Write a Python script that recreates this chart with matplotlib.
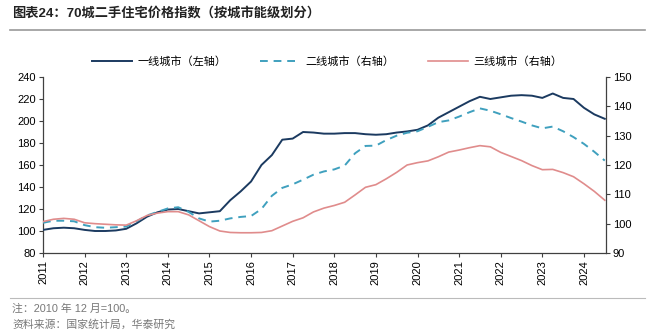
import matplotlib
matplotlib.use("Agg")
import matplotlib.pyplot as plt
import numpy as np

plt.rcParams['font.family'] = ['Liberation Sans', 'Noto Sans CJK SC', 'DejaVu Sans']

title = "图表24：70城二手住宅价格指数（按城市能级划分）"
note1 = "注：2010 年 12 月=100。"
note2 = "资料来源：国家统计局，华泰研究"
labels = ["一线城市（左轴）", "二线城市（右轴）", "三线城市（右轴）"]
years = list(range(2011, 2025))

# quarterly sample points, 2011Q1 .. 2024 mid
t = [2011 + 0.25 * k for k in range(55)]

tier1 = [101, 102.5, 103, 102.5, 101, 100, 100, 100.5, 102, 107, 113, 117,
         119.5, 120, 118, 116, 117, 118, 128, 136, 145, 160, 169, 183,
         184, 190, 189.5, 188.5, 188.5, 189, 189, 188, 187.5, 188, 189.5, 190.5,
         192, 196, 203, 208, 213, 218, 222, 220, 221.5, 223, 223.5, 223,
         221, 225, 221, 220, 212, 206, 202]

tier2 = [100.3, 101, 101, 100.8, 99.5, 98.8, 98.6, 98.8, 99, 100.8, 102.8, 104,
         105.2, 105.6, 104, 101.8, 100.7, 101, 101.8, 102.3, 102.6, 105, 109.5, 112.2,
         113.4, 115, 116.7, 117.8, 118.5, 119.8, 124, 126.5, 126.6, 128.5, 130, 131,
         131.5, 133, 134.6, 135.2, 136.5, 138, 139.3, 138.5, 137.3, 136, 134.8, 133.5,
         132.5, 133.1, 131.5, 129.5, 127.2, 124.5, 121.5]

tier3 = [100.7, 101.5, 101.8, 101.5, 100.3, 100, 99.8, 99.6, 99.5, 101, 102.8, 103.6,
         104.1, 104.1, 103, 101, 99, 97.5, 97, 96.9, 96.9, 97, 97.6, 99.2,
         100.8, 102, 104, 105.3, 106.2, 107.3, 109.8, 112.4, 113.3, 115.3, 117.5, 120,
         120.8, 121.4, 122.8, 124.4, 125.1, 125.9, 126.6, 126.2, 124.3, 122.9, 121.5, 119.8,
         118.4, 118.5, 117.4, 116, 113.6, 111, 108]

c1 = "#1B3A60"
c2 = "#3FA0BE"
c3 = "#E08C8C"
axis_c = "#404040"

fig = plt.figure(figsize=(6.59, 3.35), dpi=100)
ax = fig.add_axes([43/659, 1 - 253/335, (606-43)/659, (253-77)/335])
ax2 = ax.twinx()

ax.plot(t, tier1, color=c1, lw=1.4, label=labels[0], zorder=3)
ax2.plot(t, tier2, color=c2, lw=1.4, ls=(0, (4, 3)), label=labels[1])
ax2.plot(t, tier3, color=c3, lw=1.2, label=labels[2])

ax.set_ylim(80, 240)
ax.set_yticks(range(80, 241, 20))
ax2.set_ylim(90, 150)
ax2.set_yticks(range(90, 151, 10))
ax.set_xlim(2011, t[-1] + 0.03)
ax.set_xticks(years)
ax.set_xticklabels([str(y) for y in years], rotation=90)

for a in (ax, ax2):
    a.spines['top'].set_visible(False)
    for s in ('left', 'right', 'bottom'):
        a.spines[s].set_color(axis_c)
        a.spines[s].set_linewidth(0.9)
    a.tick_params(axis='both', labelsize=8, colors='black', length=3, width=0.8,
                  direction='out', pad=2)
    a.tick_params(axis='both', color=axis_c)
ax2.spines['left'].set_visible(False)
ax.spines['right'].set_visible(False)
ax2.spines['bottom'].set_visible(False)

# legend
h1, l1 = ax.get_legend_handles_labels()
h2, l2 = ax2.get_legend_handles_labels()
fig.legend(h1 + h2, l1 + l2, loc='center', bbox_to_anchor=(0.497, 1 - 62/335),
           ncol=3, frameon=False, fontsize=8, handlelength=3.6, columnspacing=3.0,
           handletextpad=0.5)

fig.text(12/659, 1 - 13/335, title, fontsize=9.5, fontweight='bold', va='center', ha='left',
         color='#222222')
fig.add_artist(plt.Line2D([10/659, 645/659], [1 - 30/335, 1 - 30/335], color='#999999', lw=1.2))
fig.add_artist(plt.Line2D([10/659, 645/659], [1 - 298/335, 1 - 298/335], color='#bbbbbb', lw=0.8))
fig.text(12/659, 1 - 309/335, note1, fontsize=7.8, color='#777777', va='center', ha='left')
fig.text(12/659, 1 - 325/335, note2, fontsize=7.8, color='#777777', va='center', ha='left')

fig.savefig("out.png", dpi=100)
